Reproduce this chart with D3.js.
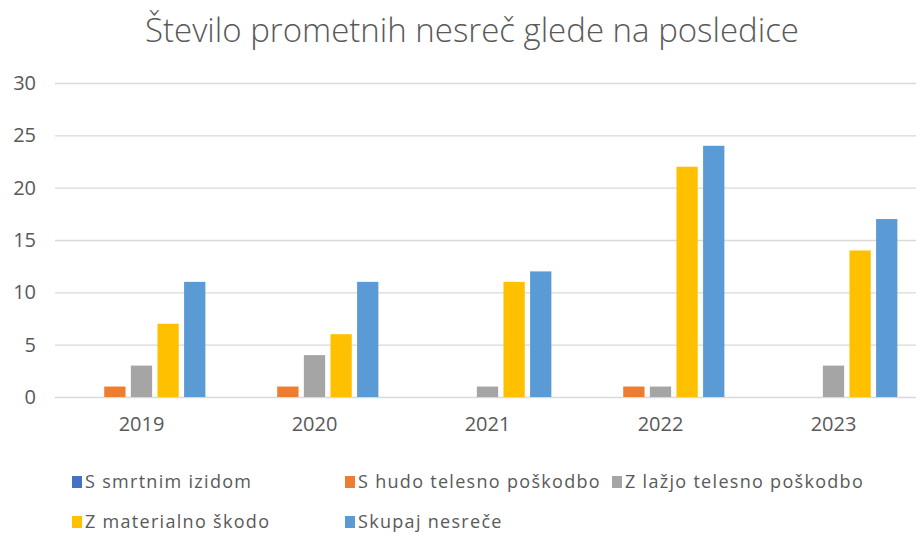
<!DOCTYPE html>
<html>
<head>
<meta charset="utf-8">
<script src="https://cdn.jsdelivr.net/npm/d3@7"></script>
<style>
	body { margin: 0; background: #fff; }
	text { font-family: "Open Sans", sans-serif; fill: #595959; }
</style>
</head>
<body>
<div id="chart"></div>
<script>
	// chart data
	var years = ['2019', '2020', '2021', '2022', '2023'];
	var seriesNames = ['S smrtnim izidom', 'S hudo telesno poškodbo', 'Z lažjo telesno poškodbo',
		'Z materialno škodo', 'Skupaj nesreče'];
	var smrtni = [0, 0, 0, 0, 0];
	var hudo = [1, 1, 0, 1, 0];
	var lazjo = [3, 4, 1, 1, 3];
	var materialno = [7, 6, 11, 22, 14];
	var skupaj = [11, 11, 12, 24, 17];
	var yTicks = [0, 5, 10, 15, 20, 25, 30];
	var colors = ['#4472C4', '#ED7D31', '#A5A5A5', '#FFC000', '#5B9BD5'];

	var values = [smrtni, hudo, lazjo, materialno, skupaj];

	var width = 916, height = 536;
	var margin = {left: 55, right: -4, top: 83, bottom: 139};

	var svg = d3.select('#chart').append('svg')
		.attr('width', width)
		.attr('height', height);

	// title
	svg.append('text')
		.attr('x', 472)
		.attr('y', 42)
		.attr('text-anchor', 'middle')
		.style('font-size', '33px')
		.style('font-weight', 300)
		.text('Število prometnih nesreč glede na posledice');

	var x0 = d3.scaleBand()
		.domain(years)
		.range([margin.left, width - margin.right]);

	var x1 = d3.scaleBand()
		.domain(seriesNames)
		.range([0, x0.bandwidth()])
		.paddingInner(0.2)
		.paddingOuter(0.85);

	var y = d3.scaleLinear()
		.domain([0, 30])
		.range([height - margin.bottom, margin.top]);

	// gridlines + y labels
	var yAxis = d3.axisLeft(y)
		.tickValues(yTicks)
		.tickSize(-(width - margin.right - margin.left))
		.tickPadding(20);

	var gY = svg.append('g')
		.attr('transform', 'translate(' + margin.left + ',0)')
		.call(yAxis);
	gY.select('.domain').remove();
	gY.selectAll('.tick line')
		.attr('stroke', '#D9D9D9')
		.attr('stroke-width', 1.3);
	gY.selectAll('.tick text')
		.style('font-size', '20px')
		.attr('x', -19);

	// x labels
	var xAxis = d3.axisBottom(x0).tickSize(0).tickPadding(20);
	var gX = svg.append('g')
		.attr('transform', 'translate(0,' + y(0) + ')')
		.call(xAxis);
	gX.select('.domain').remove();
	gX.selectAll('.tick text')
		.style('font-size', '20px');

	// bars
	var groups = svg.append('g').selectAll('g')
		.data(years)
		.join('g')
		.attr('transform', function (d) {
			return 'translate(' + x0(d) + ',0)';
		});

	groups.selectAll('rect')
		.data(function (d, i) {
			return seriesNames.map(function (s, j) {
				return {name: s, value: values[j][i], color: colors[j]};
			});
		})
		.join('rect')
		.attr('x', function (d) { return x1(d.name); })
		.attr('width', x1.bandwidth())
		.attr('y', function (d) { return y(d.value); })
		.attr('height', function (d) { return y(0) - y(d.value); })
		.attr('fill', function (d) { return d.color; });

	// legend, two rows like excel
	var legendPos = [[72, 482], [345, 482], [612, 482], [72, 522], [345, 522]];
	var legend = svg.append('g').selectAll('g')
		.data(seriesNames)
		.join('g')
		.attr('transform', function (d, i) {
			return 'translate(' + legendPos[i][0] + ',' + legendPos[i][1] + ')';
		});

	legend.append('rect')
		.attr('x', 0)
		.attr('y', -6)
		.attr('width', 10)
		.attr('height', 12)
		.attr('fill', function (d, i) { return colors[i]; });

	legend.append('text')
		.attr('x', 13)
		.attr('dy', '0.35em')
		.style('font-size', '18px')
		.style('letter-spacing', '1.3px')
		.text(function (d) { return d; });
</script>
</body>
</html>
